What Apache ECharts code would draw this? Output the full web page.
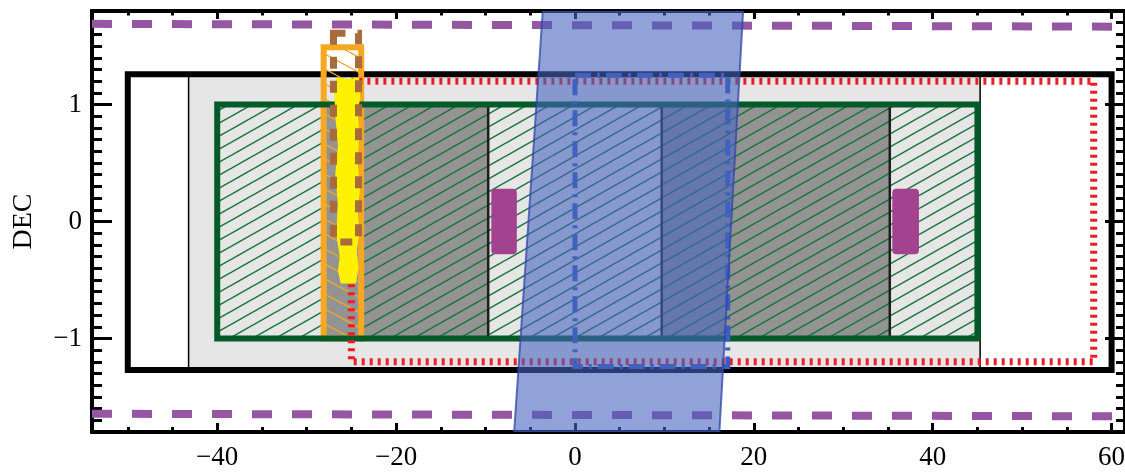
<!DOCTYPE html>
<html>
<head>
<meta charset="utf-8">
<script src="https://cdn.jsdelivr.net/npm/echarts@6/dist/echarts.min.js"></script>
<style>
  html, body { margin: 0; padding: 0; background: #fff; }
  #chart { width: 1125px; height: 473px; }
</style>
</head>
<body>
<div id="chart"></div>
<script>
// Survey footprints on the sky, RA offset vs DEC (degrees)
const raRange = [-54, 61.5];
const decRange = [-1.8, 1.8];
const raMajorTicks = [-40, -20, 0, 20, 40, 60];
const raMinorTicks = [-50, -45, -40, -35, -30, -25, -20, -15, -10, -5, 0, 5, 10, 15, 20, 25, 30, 35, 40, 45, 50, 55, 60];
const decMajorTicks = [-1, 0, 1];
const decMinorTicks = [-1.8, -1.7, -1.6, -1.5, -1.4, -1.3, -1.2, -1.1, -1.0, -0.9, -0.8, -0.7, -0.6, -0.5, -0.4, -0.3, -0.2, -0.1, 0,
  0.1, 0.2, 0.3, 0.4, 0.5, 0.6, 0.7, 0.8, 0.9, 1.0, 1.1, 1.2, 1.3, 1.4, 1.5, 1.6, 1.7, 1.8];

// Dashed DEC limits, as [ra, dec] end points
const upperLimit = [[-54, 1.69], [61.5, 1.666]];
const lowerLimit = [[-54, -1.644], [61.5, -1.666]];

// Boxes as [raMin, raMax, decMin, decMax]
const outerBox = [-50, 60, -1.27, 1.26];
const greyStrip = [-43.2, 45.3, -1.27, 1.26];
const greenBox = [-40, 45, -1.0, 1.0];
const panelStart = [-40, -28.1, -23.9, -9.7, 9.7, 35.2];
const panelEnd = [-28.1, -23.9, -9.7, 9.7, 35.2, 45];
const panelShade = ['light', 'dark', 'dark', 'light', 'dark', 'light'];
const panelHatched = [true, false, true, true, true, true];
const panelDividers = [-9.7, 9.7, 35.2];
const magentaBoxes = [[-9.35, -6.5, -0.28, 0.28], [35.48, 38.46, -0.28, 0.28]];
const orangeBox = [-28.1, -23.9, -1.0, 1.49];
const brownBox = [-27.0, -24.2, -0.175, 1.61];
const redBox = [-25, 58, -1.2, 1.2];
const blueBox = [0, 17.08, -1.24, 1.25];

// Polygons as lists of [ra, dec] vertices
const stripe = [[-3.6, 1.8], [18.8, 1.8], [16.15, -1.8], [-6.8, -1.8]];
const yellowOutline = [
  [-26.7, 1.23], [-25.2, 1.22], [-24.2, 1.23], [-24.0, 1.05], [-24.3, 0.95], [-24.1, 0.75],
  [-24.3, 0.5], [-24.0, 0.3], [-24.3, 0.1], [-24.1, -0.1], [-24.4, -0.25], [-24.2, -0.4],
  [-24.5, -0.53], [-26.2, -0.53], [-26.5, -0.42], [-26.3, -0.3], [-26.7, -0.1], [-26.5, 0.15],
  [-26.8, 0.4], [-26.5, 0.65], [-26.8, 0.9], [-26.9, 1.1]
];

const SERIF = '"Liberation Serif", "DejaVu Serif", serif';
const COLORS = {
  light: '#e6e6e6', dark: '#939393', green: '#005b28', hatch: '#16733d',
  magenta: '#a3438f', orange: '#f7a823', brown: '#a86b3c', yellow: '#fff200',
  red: '#ee1c25', blue: '#3b5cc0', purple: '#9556a2'
};

// Repeating diagonal hatch tile; dir > 0 draws "/", dir < 0 draws "\"
function hatchTile(w, h, color, lw, dir) {
  const c = document.createElement('canvas');
  c.width = w; c.height = h;
  const g = c.getContext('2d');
  g.strokeStyle = color; g.lineWidth = lw;
  for (const k of [-1, 0, 1]) {
    g.beginPath();
    if (dir > 0) { g.moveTo(0, h + k * h); g.lineTo(w, k * h); }
    else { g.moveTo(0, k * h); g.lineTo(w, h + k * h); }
    g.stroke();
  }
  return c;
}
const greenHatch = { image: hatchTile(23, 13, COLORS.hatch, 1.5, 1), repeat: 'repeat' };
const orangeHatch = { image: hatchTile(28, 15, COLORS.orange, 1.2, -1), repeat: 'repeat' };

function boxRect(api, x0, x1, y0, y1) {
  const a = api.coord([x0, y1]);
  const b = api.coord([x1, y0]);
  return { x: a[0], y: a[1], width: b[0] - a[0], height: b[1] - a[1] };
}

// One custom series drawing a list of boxes
function boxSeries(name, rows, z, styleFor, radius) {
  return {
    type: 'custom', name, z, clip: true, silent: true,
    data: rows,
    encode: { x: [0, 1], y: [2, 3] },
    renderItem(params, api) {
      const r = boxRect(api, api.value(0), api.value(1), api.value(2), api.value(3));
      if (radius) r.r = radius;
      return { type: 'rect', shape: r, style: styleFor(params.dataIndex) };
    }
  };
}

function polygonSeries(name, pts, z, style) {
  return {
    type: 'custom', name, z, clip: true, silent: true,
    data: [0],
    renderItem(params, api) {
      return { type: 'polygon', shape: { points: pts.map(p => api.coord(p)) }, style };
    }
  };
}

function limitLine(name, pts) {
  return {
    type: 'line', name, data: pts, z: 3, symbol: 'none', silent: true, clip: true,
    lineStyle: { color: COLORS.purple, width: 8, type: [20, 20], cap: 'butt' }
  };
}

const minusFmt = v => String(v).replace('-', '\u2212');
const labelStyle = { color: '#000', fontFamily: SERIF, fontSize: 27 };

function xAxisDef(position, ticks, len, withLabels) {
  return {
    type: 'value', gridIndex: 0, position, min: raRange[0], max: raRange[1],
    axisLine: { show: true, onZero: false, lineStyle: { color: '#000', width: 4 } },
    axisTick: { show: true, inside: true, length: len, customValues: ticks, lineStyle: { color: '#000', width: 3 } },
    axisLabel: withLabels
      ? Object.assign({ show: true, customValues: ticks, margin: 12, formatter: minusFmt }, labelStyle)
      : { show: false },
    splitLine: { show: false }, minorTick: { show: false }
  };
}
function yAxisDef(position, ticks, len, withLabels) {
  const ax = {
    type: 'value', gridIndex: 0, position, min: decRange[0], max: decRange[1],
    axisLine: { show: true, onZero: false, lineStyle: { color: '#000', width: 4 } },
    axisTick: { show: true, inside: true, length: len, customValues: ticks, lineStyle: { color: '#000', width: 3 } },
    axisLabel: withLabels
      ? Object.assign({ show: true, customValues: ticks, margin: 10, formatter: minusFmt }, labelStyle)
      : { show: false },
    splitLine: { show: false }, minorTick: { show: false }
  };
  if (withLabels) {
    ax.name = 'DEC';
    ax.nameLocation = 'middle';
    ax.nameRotate = 90;
    ax.nameGap = 54;
    ax.nameTextStyle = { color: '#000', fontFamily: SERIF, fontSize: 28 };
  }
  return ax;
}

const panelRows = panelStart.map((s, i) => [s, panelEnd[i], greenBox[2], greenBox[3]]);
const hatchRows = panelRows.filter((r, i) => panelHatched[i]);
const dividerRows = panelDividers.map(x => [x, x, greenBox[2], greenBox[3]]);
const stripEdges = [[greyStrip[0], greyStrip[0], greyStrip[2], greyStrip[3]],
                    [greyStrip[1], greyStrip[1], greyStrip[2], greyStrip[3]]];

const chart = echarts.init(document.getElementById('chart'), null, { renderer: 'canvas' });
chart.setOption({
  animation: false,
  backgroundColor: '#fff',
  grid: { left: 92, top: 11, width: 1033, height: 421, containLabel: false, outerBoundsMode: 'none' },
  xAxis: [
    xAxisDef('bottom', raMajorTicks, 9, true),
    xAxisDef('bottom', raMinorTicks, 5, false),
    xAxisDef('top', raMajorTicks, 8, false),
    xAxisDef('top', raMinorTicks, 4.5, false)
  ],
  yAxis: [
    yAxisDef('left', decMajorTicks, 20, true),
    yAxisDef('left', decMinorTicks, 10, false),
    yAxisDef('right', decMajorTicks, 20, false),
    yAxisDef('right', decMinorTicks, 9, false)
  ],
  series: [
    limitLine('upper limit', upperLimit),
    limitLine('lower limit', lowerLimit),
    boxSeries('grey strip', [greyStrip], 4, () => ({ fill: COLORS.light })),
    boxSeries('strip edges', stripEdges, 5, () => ({ fill: null, stroke: '#000', lineWidth: 1.5 })),
    boxSeries('outer footprint', [outerBox], 6, () => ({ fill: null, stroke: '#000', lineWidth: 6 })),
    boxSeries('panels', panelRows, 7, i => ({ fill: COLORS[panelShade[i]] })),
    boxSeries('panel hatch', hatchRows, 8, () => ({ fill: greenHatch })),
    boxSeries('orange hatch', [orangeBox], 9, () => ({ fill: orangeHatch })),
    boxSeries('orange footprint', [orangeBox], 10, () => ({ fill: null, stroke: COLORS.orange, lineWidth: 6 })),
    boxSeries('panel dividers', dividerRows, 11, () => ({ fill: null, stroke: '#1e1e1e', lineWidth: 2.5 })),
    boxSeries('green footprint', [greenBox], 12, () => ({ fill: null, stroke: COLORS.green, lineWidth: 6 })),
    boxSeries('magenta fields', magentaBoxes, 13, () => ({ fill: COLORS.magenta }), 4),
    boxSeries('red footprint', [redBox], 14, () => ({ fill: null, stroke: COLORS.red, lineWidth: 7, lineDash: [3, 5] })),
    polygonSeries('yellow field', yellowOutline, 15, { fill: COLORS.yellow }),
    boxSeries('brown footprint', [brownBox], 16, () => ({ fill: null, stroke: COLORS.brown, lineWidth: 7, lineDash: [12, 12] })),
    boxSeries('blue footprint', [blueBox], 17, () => ({ fill: null, stroke: COLORS.blue, lineWidth: 5, lineDash: [16, 6, 3, 6] })),
    polygonSeries('stripe', stripe, 18, { fill: 'rgba(70,100,190,0.6)', stroke: 'rgba(50,70,165,0.75)', lineWidth: 2 })
  ]
});
</script>
</body>
</html>
